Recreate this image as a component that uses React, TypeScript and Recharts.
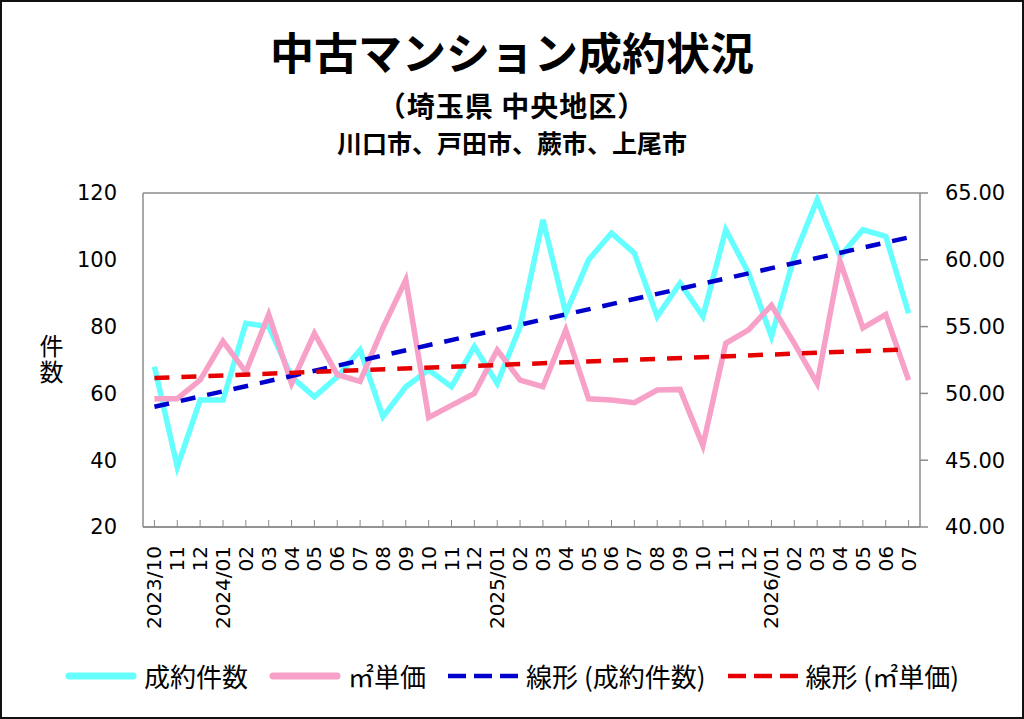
import { CartesianGrid, ComposedChart, Legend, Line, XAxis, YAxis } from "recharts";

// 月ラベル (2023/10 〜 2026/07)
const monthLabels = [
  "2023/10", "11", "12",
  "2024/01", "02", "03", "04", "05", "06", "07", "08", "09", "10", "11", "12",
  "2025/01", "02", "03", "04", "05", "06", "07", "08", "09", "10", "11", "12",
  "2026/01", "02", "03", "04", "05", "06", "07",
];

// 成約件数 (左軸)
const contractCounts = [
  68, 38, 58, 58, 81, 80, 65, 59, 65, 73, 53, 62, 67, 62, 74,
  63, 80, 112, 84, 100, 108, 102, 83, 93, 83, 109, 96,
  77, 101, 118, 101, 109, 107, 84,
];

// ㎡単価 (右軸, 万円)
const unitPrices = [
  49.6, 49.6, 51.0, 53.9, 51.6, 55.9, 50.75, 54.5, 51.4, 50.9, 54.9, 58.5, 48.2, 49.1, 50.0,
  53.25, 51.0, 50.5, 54.75, 49.6, 49.5, 49.3, 50.25, 50.3, 46.1, 53.75, 54.75,
  56.6, 53.75, 50.75, 59.9, 54.9, 55.9, 51.0,
];

// 近似直線の始点・終点
const countTrendEnds = [56.0, 106.7];
const priceTrendEnds = [51.15, 53.3];

const leftTicks = [20, 40, 60, 80, 100, 120];
const rightTicks = [40, 45, 50, 55, 60, 65];

const last = monthLabels.length - 1;
const data = monthLabels.map((_, i) => ({
  idx: i,
  count: contractCounts[i],
  price: unitPrices[i],
  countTrend: i === 0 ? countTrendEnds[0] : i === last ? countTrendEnds[1] : null,
  priceTrend: i === 0 ? priceTrendEnds[0] : i === last ? priceTrendEnds[1] : null,
}));

const JP = '"Noto Sans CJK JP", "Noto Sans", sans-serif';
const NUM = '"DejaVu Sans", sans-serif';
const GRID = "#8c8c8c";

const series = [
  { key: "count", name: "成約件数", axis: "left", color: "#66FFFF", width: 5.5, dash: undefined },
  { key: "price", name: "㎡単価", axis: "right", color: "#F7A1C8", width: 5.5, dash: undefined },
  { key: "countTrend", name: "線形 (成約件数)", axis: "left", color: "#0000CC", width: 4.5, dash: "15 12" },
  { key: "priceTrend", name: "線形 (㎡単価)", axis: "right", color: "#E60000", width: 4.5, dash: "15 12" },
];

function MonthTick(props: any) {
  const { x, y, payload } = props;
  const ty = y + 19;
  return (
    <g>
      <line x1={x} x2={x} y1={y - 7} y2={y} stroke={GRID} strokeWidth={1} />
      <text
        x={x}
        y={ty}
        transform={`rotate(-90 ${x} ${ty})`}
        textAnchor="end"
        dominantBaseline="central"
        fontFamily={NUM}
        fontSize={20}
        fill="#000"
      >
        {monthLabels[payload.value]}
      </text>
    </g>
  );
}

function ChartLegend() {
  return (
    <div style={{ display: "flex", justifyContent: "center", alignItems: "center", height: 40 }}>
      {series.map((s, i) => (
        <div
          key={s.key}
          style={{ display: "flex", alignItems: "center", marginRight: i < series.length - 1 ? 21 : 0 }}
        >
          <svg width={72} height={12}>
            {s.dash ? (
              <line x1={1} x2={71} y1={6} y2={6} stroke={s.color} strokeWidth={4.5} strokeDasharray="18 8" />
            ) : (
              <line x1={4} x2={68} y1={6} y2={6} stroke={s.color} strokeWidth={7} strokeLinecap="round" />
            )}
          </svg>
          <span style={{ marginLeft: 7, fontFamily: JP, fontSize: 26, color: "#000", lineHeight: "40px" }}>
            {s.name}
          </span>
        </div>
      ))}
    </div>
  );
}

export default function App() {
  return (
    <div style={{ position: "absolute", left: 0, top: 0, width: 1024, height: 719, background: "#fff" }}>
      <div
        style={{
          position: "absolute", left: 0, top: 28, width: 1024, textAlign: "center",
          fontFamily: JP, fontWeight: 700, fontSize: 44, lineHeight: "46px", color: "#000",
        }}
      >
        中古マンション成約状況
      </div>
      <div
        style={{
          position: "absolute", left: 0, top: 90, width: 1024, textAlign: "center",
          fontFamily: JP, fontWeight: 700, fontSize: 28, letterSpacing: 1, lineHeight: "30px", color: "#000",
        }}
      >
        （埼玉県 中央地区）
      </div>
      <div
        style={{
          position: "absolute", left: 0, top: 128, width: 1024, textAlign: "center",
          fontFamily: JP, fontWeight: 700, fontSize: 25, lineHeight: "28px", color: "#000",
        }}
      >
        川口市、戸田市、蕨市、上尾市
      </div>
      <div
        style={{
          position: "absolute", left: 38, top: 334, height: 54,
          writingMode: "vertical-rl", textOrientation: "upright",
          fontFamily: JP, fontSize: 24, letterSpacing: 2, lineHeight: "26px", color: "#000",
        }}
      >
        件数
      </div>

      <ComposedChart
        width={1024}
        height={719}
        data={data}
        margin={{ top: 193, right: 24, bottom: 23, left: 83 }}
      >
        <CartesianGrid vertical={false} stroke={GRID} strokeWidth={1.5} />
        <XAxis
          dataKey="idx"
          type="category"
          scale="band"
          interval={0}
          height={129}
          tickLine={false}
          tickSize={0}
          tickMargin={0}
          axisLine={{ stroke: GRID, strokeWidth: 1.5 }}
          tick={<MonthTick />}
        />
        <YAxis
          yAxisId="left"
          orientation="left"
          width={60}
          domain={[20, 120]}
          ticks={leftTicks}
          allowDataOverflow
          tickLine={false}
          tickSize={0}
          tickMargin={26}
          axisLine={{ stroke: GRID, strokeWidth: 1.5 }}
          tick={{ fontFamily: NUM, fontSize: 21, fill: "#000" }}
        />
        <YAxis
          yAxisId="right"
          orientation="right"
          width={80}
          domain={[40, 65]}
          ticks={rightTicks}
          allowDataOverflow
          tickSize={8}
          tickMargin={17}
          tickLine={{ stroke: GRID, strokeWidth: 1.5 }}
          axisLine={{ stroke: GRID, strokeWidth: 1.5 }}
          tickFormatter={(v: number) => v.toFixed(2)}
          tick={{ fontFamily: NUM, fontSize: 21, fill: "#000", textAnchor: "start" }}
        />
        {series.map((s) => (
          <Line
            key={s.key}
            yAxisId={s.axis}
            dataKey={s.key}
            name={s.name}
            type="linear"
            stroke={s.color}
            strokeWidth={s.width}
            strokeDasharray={s.dash}
            strokeLinejoin="miter"
            dot={false}
            activeDot={false}
            connectNulls
            isAnimationActive={false}
          />
        ))}
        <Legend
          verticalAlign="bottom"
          height={40}
          wrapperStyle={{ left: 0, width: 1024 }}
          content={() => <ChartLegend />}
        />
      </ComposedChart>

      <div
        style={{
          position: "absolute", left: 0, top: 0, width: 1024, height: 719,
          boxSizing: "border-box", border: "2px solid #111", pointerEvents: "none",
        }}
      />
    </div>
  );
}
